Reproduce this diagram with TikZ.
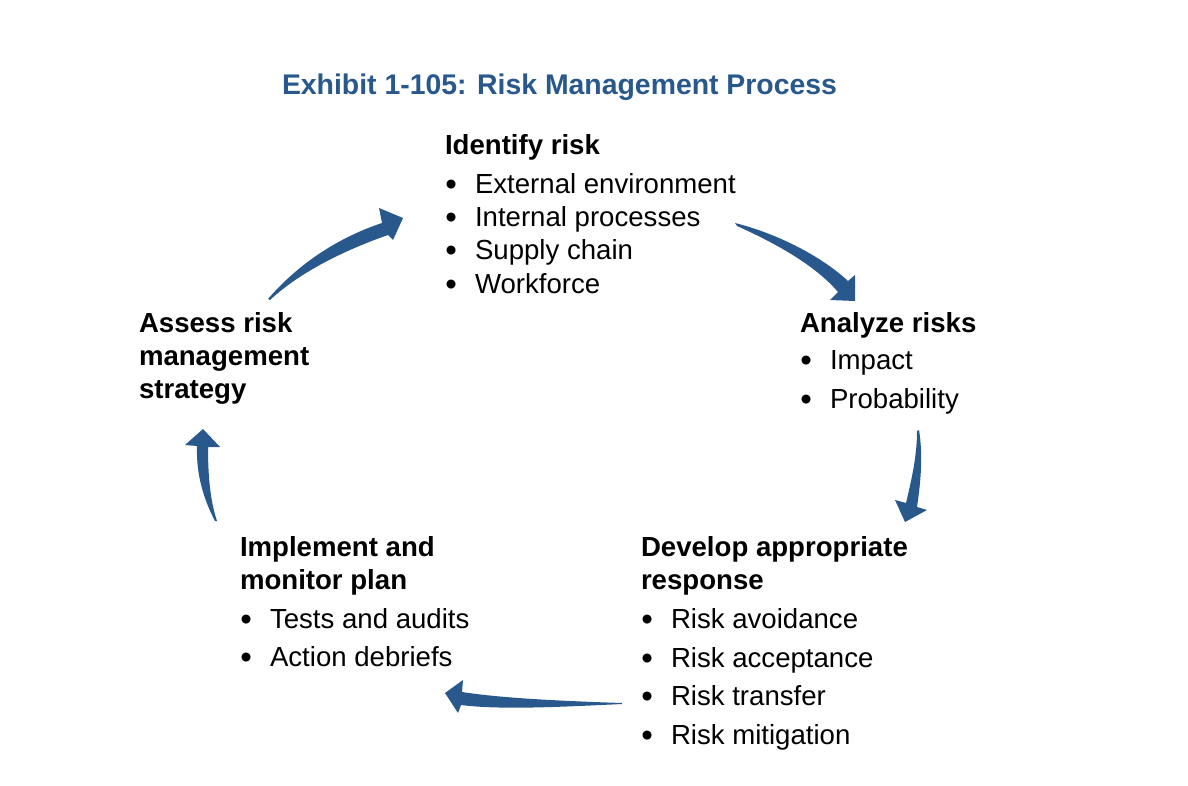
\documentclass[tikz,border=0pt]{standalone}
\usepackage{fontspec}
\setmainfont{Liberation Sans}
\definecolor{exblue}{RGB}{40,88,140}
\newcommand{\bul}{\makebox[15pt][l]{\hspace{0.2pt}\raisebox{-1pt}{\fontsize{16.5}{16}\selectfont •}}}
\begin{document}
\begin{tikzpicture}[x=0.5pt,y=-0.5pt,
  txt/.style={anchor=base west, inner sep=0pt, outer sep=0pt, font=\fontsize{13.8}{16}\selectfont, text=black},
  hd/.style={txt, font=\fontsize{13.8}{16}\selectfont\bfseries},
  ttl/.style={txt, font=\fontsize{14.2}{16}\selectfont\bfseries, text=exblue},
  cyc/.style={fill=exblue, draw=none}]
\useasboundingbox (0,0) rectangle (1188,786);
\fill[white] (0,0) rectangle (1188,786);

% title
\node[ttl] (title) at (282,95) {Exhibit 1-105: Risk Management Process};

% identify
\node[hd]  (id0) at (445,155) {Identify risk};
\node[txt] (id1) at (445,194) {\bul External environment};
\node[txt] (id2) at (445,227) {\bul Internal processes};
\node[txt] (id3) at (445,260) {\bul Supply chain};
\node[txt] (id4) at (445,293) {\bul Workforce};

% analyze
\node[hd]  (an0) at (800,332) {Analyze risks};
\node[txt] (an1) at (800,369) {\bul Impact};
\node[txt] (an2) at (800,408) {\bul Probability};

% develop
\node[hd]  (dv0) at (641,556) {Develop appropriate};
\node[hd]  (dv1) at (641,589) {response};
\node[txt] (dv2) at (641,628) {\bul Risk avoidance};
\node[txt] (dv3) at (641,667) {\bul Risk acceptance};
\node[txt] (dv4) at (641,705) {\bul Risk transfer};
\node[txt] (dv5) at (641,744) {\bul Risk mitigation};

% implement
\node[hd]  (im0) at (240,556) {Implement and};
\node[hd]  (im1) at (240,589) {monitor plan};
\node[txt] (im2) at (240,628) {\bul Tests and audits};
\node[txt] (im3) at (240,666) {\bul Action debriefs};

% assess
\node[hd] (as0) at (139,332) {Assess risk};
\node[hd] (as1) at (139,365) {management};
\node[hd] (as2) at (139,398) {strategy};

% arrow end points
\coordinate (a1s) at (268,299); \coordinate (a1t) at (403,218);
\coordinate (a2s) at (735,223); \coordinate (a2t) at (855,301);
\coordinate (a3s) at (919,430); \coordinate (a3t) at (905,522);
\coordinate (a4s) at (215,521); \coordinate (a4t) at (203,429);
\coordinate (a5s) at (622,703); \coordinate (a5t) at (445,693);

% assess -> identify
\fill[cyc] (a1s) .. controls (300,262) and (340,237) .. (382,223)
  -- (379,208) -- (a1t) -- (393,240) -- (388,235)
  .. controls (345,250) and (300,272) .. (270,300) -- cycle;
% identify -> analyze
\fill[cyc] (a2s) .. controls (775,233) and (820,255) .. (848,281)
  -- (855,275) -- (a2t) -- (830,300) -- (838,292)
  .. controls (815,265) and (775,243) .. (737,226) -- cycle;
% analyze -> develop
\fill[cyc] (a3s) .. controls (923,455) and (921,480) .. (917,507)
  -- (927,510) -- (a3t) -- (895,500) -- (906,503)
  .. controls (912,478) and (917,455) .. (917,431) -- cycle;
% implement -> assess
\fill[cyc] (a4s) .. controls (204,500) and (196,475) .. (197,446)
  -- (185,445) -- (a4t) -- (220,447) -- (208,447)
  .. controls (208,475) and (210,500) .. (217,521) -- cycle;
% develop -> implement
\fill[cyc] (a5s) .. controls (560,701) and (500,698) .. (462,692)
  -- (463,680) -- (a5t) -- (458,713) -- (461,705)
  .. controls (500,710) and (560,707) .. (622,704) -- cycle;
\end{tikzpicture}
\end{document}
